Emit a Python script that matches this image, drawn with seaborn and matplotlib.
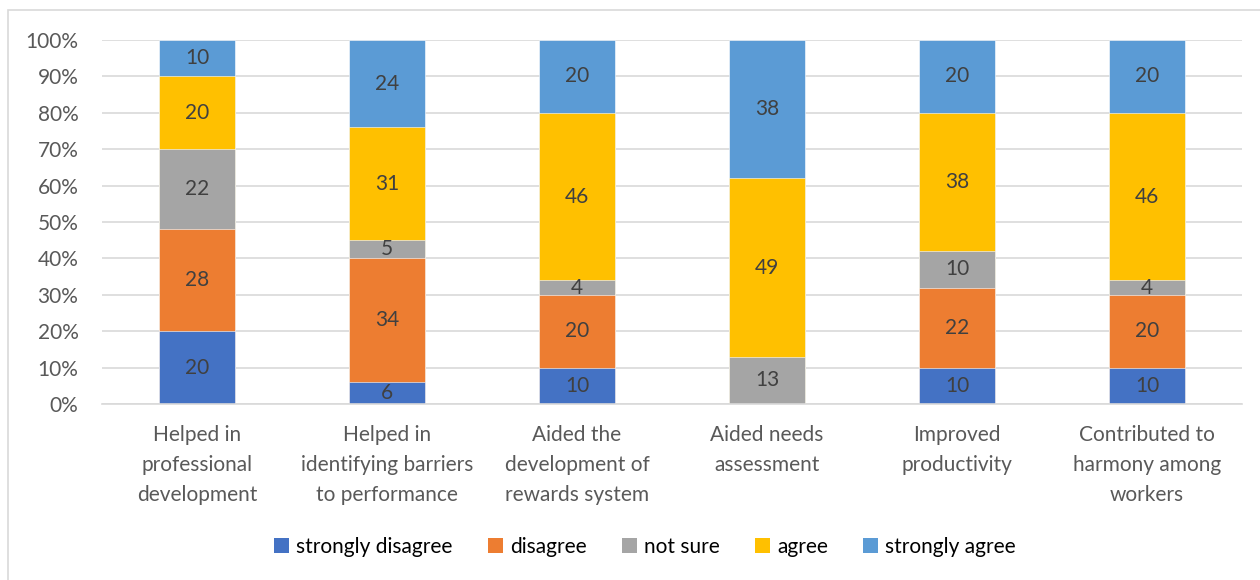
import matplotlib
matplotlib.use("Agg")
import matplotlib.pyplot as plt
from matplotlib.patches import Rectangle, Patch
import numpy as np
import pandas as pd
import seaborn as sns

categories = [
    "Helped in\nprofessional\ndevelopment",
    "Helped in\nidentifying barriers\nto performance",
    "Aided the\ndevelopment of\nrewards system",
    "Aided needs\nassessment",
    "Improved\nproductivity",
    "Contributed to\nharmony among\nworkers",
]
series_names = ["strongly disagree", "disagree", "not sure", "agree", "strongly agree"]
strongly_disagree = [20, 6, 10, 0, 10, 10]
disagree = [28, 34, 20, 0, 22, 20]
not_sure = [22, 5, 4, 13, 10, 4]
agree = [20, 31, 46, 49, 38, 46]
strongly_agree = [10, 24, 20, 38, 20, 20]
y_ticks = [0, 10, 20, 30, 40, 50, 60, 70, 80, 90, 100]
colors = ["#4472C4", "#ED7D31", "#A5A5A5", "#FFC000", "#5B9BD5"]

sns.set_theme(style="white")
plt.rcParams["font.family"] = ["Lato", "DejaVu Sans"]

values = np.array([strongly_disagree, disagree, not_sure, agree, strongly_agree], dtype=float)
cum = np.cumsum(values, axis=0)

fig = plt.figure(figsize=(12.6, 5.8), dpi=100)
ax = fig.add_axes([102 / 1260, 1 - 404 / 580, 1140 / 1260, 364 / 580])

# Stack drawn from the top series down so each lower segment overlays the one above
for i in range(len(series_names) - 1, -1, -1):
    df = pd.DataFrame({"category": categories, "value": cum[i]})
    sns.barplot(data=df, x="category", y="value", color=colors[i], width=0.395,
                saturation=1, ax=ax, zorder=2, edgecolor="white", linewidth=0.4)

# Segment value labels
for i in range(len(series_names)):
    for j in range(len(categories)):
        v = values[i, j]
        if v <= 0:
            continue
        ax.text(j, cum[i, j] - v / 2, f"{int(v)}", ha="center", va="center",
                fontsize=15, color="#404040", zorder=3)

ax.set_ylim(0, 100)
ax.set_xlim(-0.5, len(categories) - 0.5)
ax.set_yticks(y_ticks)
ax.set_yticklabels([f"{t}%" for t in y_ticks])
ax.set_xticks(range(len(categories)))
ax.set_xticklabels(categories, linespacing=1.62, va="top")
ax.set_xlabel("")
ax.set_ylabel("")
ax.yaxis.grid(True, color="#D9D9D9", linewidth=1.2, zorder=0)
ax.set_axisbelow(True)
for side in ["top", "right", "left"]:
    ax.spines[side].set_visible(False)
ax.spines["bottom"].set_color("#D9D9D9")
ax.spines["bottom"].set_linewidth(1.2)
ax.tick_params(axis="both", length=0, labelsize=15, labelcolor="#595959")
ax.tick_params(axis="y", pad=17)
ax.tick_params(axis="x", pad=15)

handles = [Patch(facecolor=c, edgecolor="none") for c in colors]
fig.legend(handles, series_names, loc="center", bbox_to_anchor=(0.512, 1 - 547 / 580),
           ncol=5, frameon=False, fontsize=15, handlelength=0.7, handleheight=0.7,
           handletextpad=0.35, columnspacing=1.7, labelcolor="#000000")

# Outer chart-area frame
fig.patches.append(Rectangle((8 / 1260, -0.05), 1.1, 1 - 10 / 580 + 0.05,
                             transform=fig.transFigure, fill=False,
                             edgecolor="#D9D9D9", linewidth=1.2))

fig.savefig("out.png", dpi=100, facecolor="white")
